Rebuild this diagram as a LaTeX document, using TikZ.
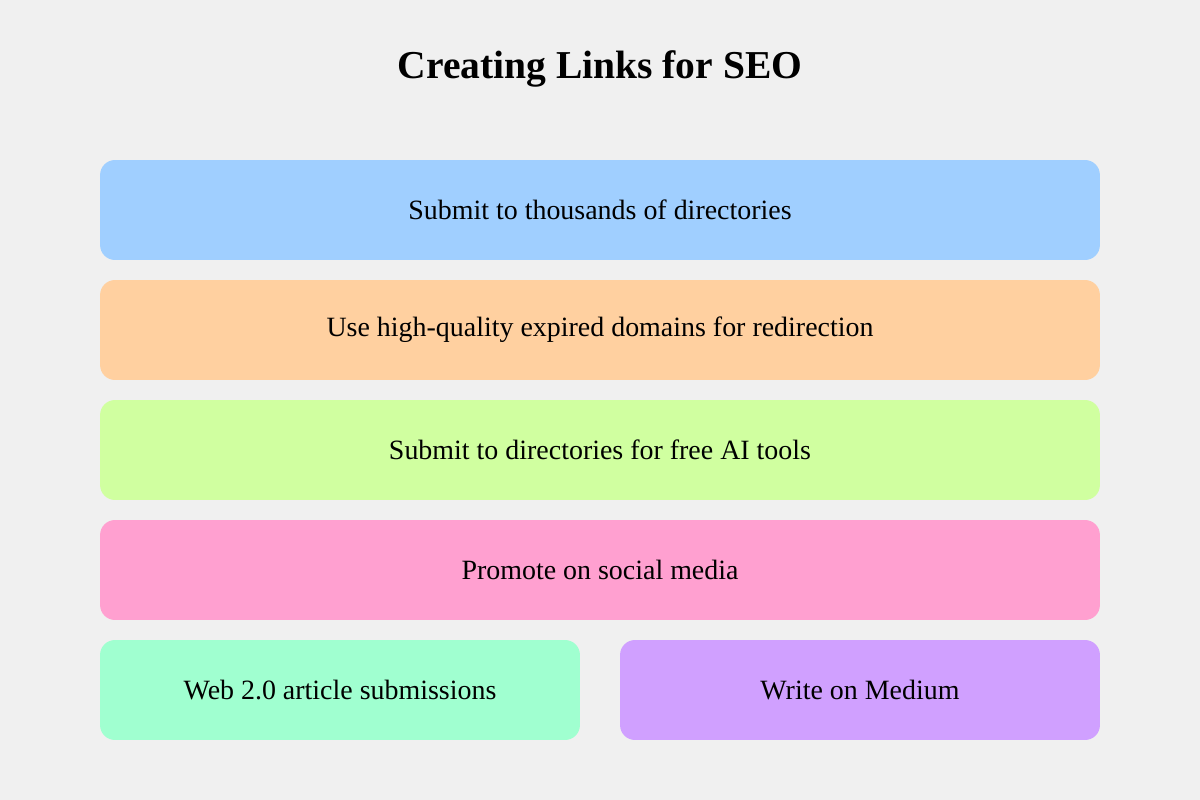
\documentclass[tikz,border=0pt]{standalone}
\usepackage{fontspec}
\setmainfont{Liberation Serif}
\usepackage{tikz}
\usetikzlibrary{positioning}

\definecolor{bgcol}{HTML}{F0F0F0}
\definecolor{blueband}{HTML}{A0CFFF}
\definecolor{orangeband}{HTML}{FFD0A0}
\definecolor{greenband}{HTML}{D0FFA0}
\definecolor{pinkband}{HTML}{FFA0D0}
\definecolor{mintband}{HTML}{A0FFD0}
\definecolor{purpleband}{HTML}{D0A0FF}

\tikzset{
  band/.style={rectangle, rounded corners=8.5pt, draw=none,
    minimum width=20cm, minimum height=2cm, inner sep=0pt,
    font=\fontsize{15.9pt}{19pt}\selectfont},
  halfband/.style={band, minimum width=9.6cm}
}

\begin{document}
\begin{tikzpicture}[x=0.02cm,y=-0.02cm]
			% page background
			\fill[bgcol] (0,0) rectangle (1200,800);
			\useasboundingbox (0,0) rectangle (1200,800);
			% title
			\node[font=\bfseries\fontsize{22.5pt}{27pt}\selectfont] (title) at (600,69) {Creating Links for SEO};
			% full-width link strategies
			\node[band, fill=blueband] (dirs) at (600,210) {Submit to thousands of directories};
			\node[band, fill=orangeband] (expired) at (600,330) {Use high-quality expired domains for redirection};
			\node[band, fill=greenband] (aitools) at (600,450) {Submit to directories for free AI tools};
			\node[band, fill=pinkband] (social) at (600,570) {Promote on social media};
			% last row split in two
			\node[halfband, fill=mintband] (web2) at (340,690) {Web 2.0 article submissions};
			\node[halfband, fill=purpleband] (medium) at (860,690) {Write on Medium};
		\end{tikzpicture}
\end{document}
